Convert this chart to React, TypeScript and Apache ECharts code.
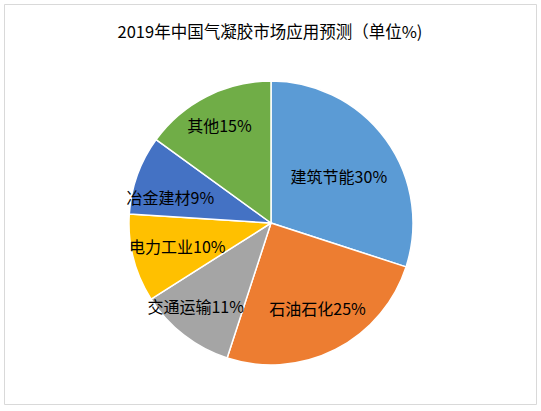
import React, { useEffect, useRef } from "react";
import * as echarts from "echarts";

const categories = ["建筑节能", "石油石化", "交通运输", "电力工业", "冶金建材", "其他"];
const values = [30, 25, 11, 10, 9, 15];
const colors = ["#5B9BD5", "#ED7D31", "#A5A5A5", "#FFC000", "#4472C4", "#70AD47"];
const titleText = "2019年中国气凝胶市场应用预测（单位%)";

// label nudges relative to the library's "inside" label placement
const labelNudges: [number, number][] = [
  [8, -4],
  [13, 19],
  [-30, 25],
  [-22, 5],
  [-31, -1],
  [-18, -32],
];

export default function App() {
  const ref = useRef<HTMLDivElement>(null);
  useEffect(() => {
    document.body.style.margin = "0";
    const chart = echarts.init(ref.current!, undefined, { renderer: "svg" });
    chart.setOption({
      animation: false,
      backgroundColor: "#ffffff",
      title: {
        text: titleText,
        left: 265,
        textAlign: "center",
        top: 18,
        textStyle: {
          fontFamily: "Noto Sans CJK SC",
          fontSize: 16.5,
          fontWeight: "normal",
          color: "#000000",
        },
      },
      graphic: [
        {
          type: "rect",
          shape: { x: 4.5, y: 4.5, width: 532, height: 400 },
          style: { fill: "none", stroke: "#d9d9d9", lineWidth: 1 },
          silent: true,
        },
      ],
      series: [
        {
          type: "pie",
          center: [271, 223],
          radius: 142,
          startAngle: 90,
          clockwise: true,
          data: categories.map((name, i) => ({
            name,
            value: values[i],
            itemStyle: { color: colors[i] },
          })),
          itemStyle: { borderColor: "#ffffff", borderWidth: 1.5 },
          label: {
            show: true,
            position: "inside",
            formatter: (p: any) => `${p.name}${p.value}%`,
            fontFamily: "Noto Sans CJK SC",
            fontSize: 16,
            color: "#000000",
          },
          labelLine: { show: false },
          labelLayout: (p: any) => ({
            dx: labelNudges[p.dataIndex][0],
            dy: labelNudges[p.dataIndex][1],
          }),
          emphasis: { disabled: true },
        },
      ],
    });
    return () => chart.dispose();
  }, []);
  return (
    <div
      ref={ref}
      style={{ position: "absolute", left: 0, top: 0, width: 541, height: 411 }}
    />
  );
}
